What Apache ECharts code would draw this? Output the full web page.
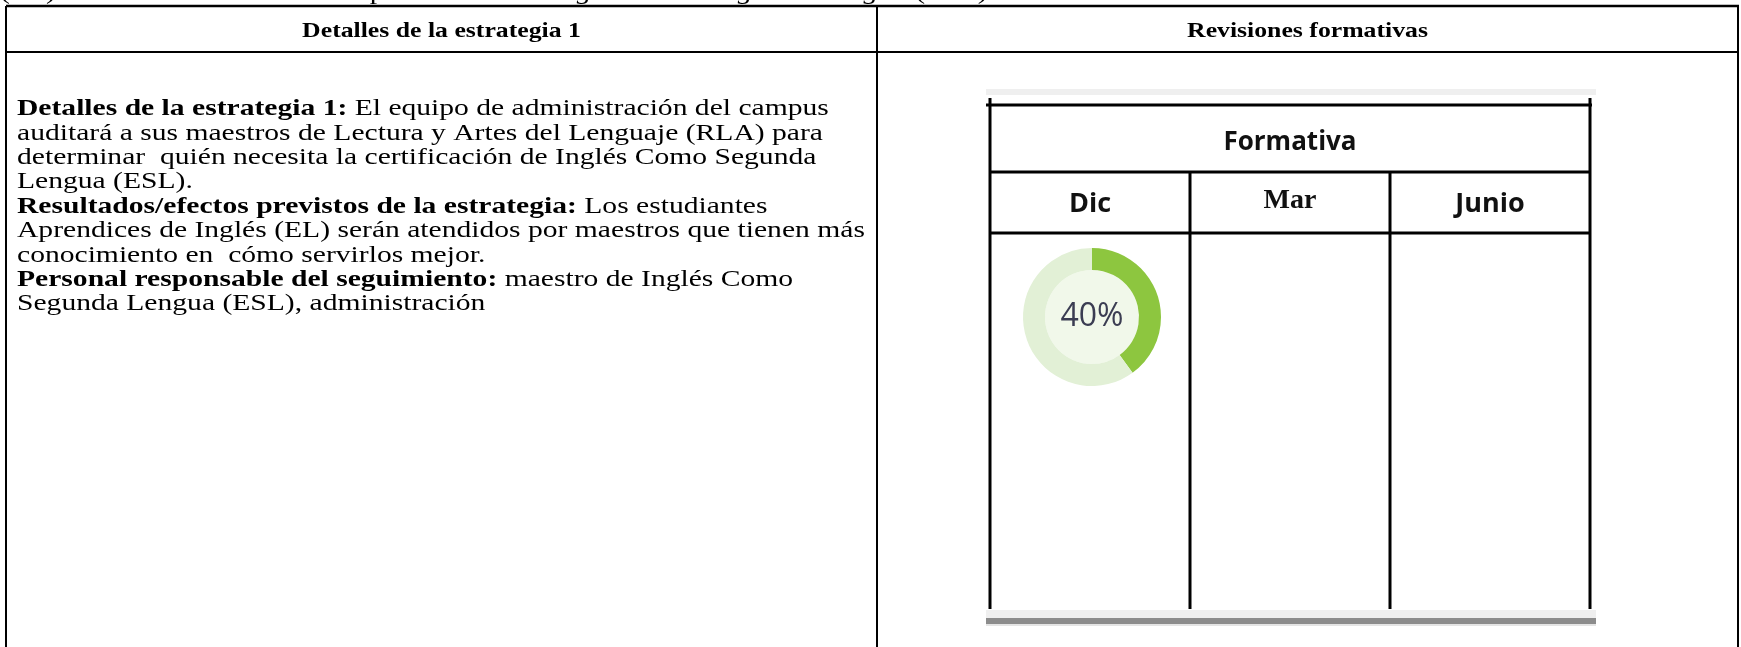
<!DOCTYPE html>
<html>
<head>
<meta charset="utf-8">
<script src="https://cdn.jsdelivr.net/npm/echarts@6/dist/echarts.min.js"></script>
<style>html,body{margin:0;padding:0;background:#fff;}#c{width:1741px;height:647px;}</style>
</head>
<body>
<div id="c"></div>
<script>
// ---- data ----
const topLine = ['(EL) tendrá Su certificación Suplementaria de ', 'Inglés Como Segunda Lengua', ' (ESL).'];
const headers = ['Detalles de la estrategia 1', 'Revisiones formativas'];
const bodyLines = [
  [['b','Detalles de la estrategia 1:'],['n',' El equipo de administración del campus']],
  [['n','auditará a sus maestros de Lectura y Artes del Lenguaje (RLA) para']],
  [['n','determinar  quién necesita la certificación de Inglés Como Segunda']],
  [['n','Lengua (ESL).']],
  [['b','Resultados/efectos previstos de la estrategia:'],['n',' Los estudiantes']],
  [['n','Aprendices de Inglés (EL) serán atendidos por maestros que tienen más']],
  [['n','conocimiento en  cómo servirlos mejor.']],
  [['b','Personal responsable del seguimiento:'],['n',' maestro de Inglés Como']],
  [['n','Segunda Lengua (ESL), administración']]
];
const panelTitle = 'Formativa';
const categories = ['Dic', 'Mar', 'Junio'];
const values = [40, null, null];

// ---- layout ----
const L = 6, T = 6, MID = 877, R = 1738, HB = 52;
const pX0 = 990, pX1 = 1590, pTop = 105, pRow1 = 172, pRow2 = 233, pBot = 609;
const colW = (pX1 - pX0) / categories.length;
const serif = '"Liberation Serif", "Times New Roman", serif';
const sans = '"Open Sans", "Noto Sans", sans-serif';
const BODY_SX = 1.315, HEAD_SX = 1.17;

const g = [];
function line(x1,y1,x2,y2,w){ g.push({type:'line',shape:{x1,y1,x2,y2},style:{stroke:'#000',lineWidth:w||2},silent:true}); }
function rect(x,y,w,h,c){ g.push({type:'rect',shape:{x,y,width:w,height:h},style:{fill:c},silent:true}); }

// top clipped text
g.push({type:'text',x:0,y:5,scaleX:BODY_SX,style:{
  text:'{n|'+topLine[0]+'}{i|'+topLine[1]+'}{n|'+topLine[2]+'}',
  textVerticalAlign:'bottom',
  rich:{n:{font:'22.5px '+serif,fill:'#000'},i:{font:'italic 22.5px '+serif,fill:'#000'}}
}});

// outer table
line(L,T,R+1,T,2.5); line(L,T,L,647); line(MID,T,MID,647); line(R,T,R,647); line(L,HB,R+1,HB);
g.push({type:'text',x:(L+MID)/2,y:31,scaleX:HEAD_SX,style:{text:headers[0],font:'bold 22px '+serif,fill:'#000',textAlign:'center',textVerticalAlign:'middle'}});
g.push({type:'text',x:(MID+R)/2,y:31,scaleX:HEAD_SX,style:{text:headers[1],font:'bold 22px '+serif,fill:'#000',textAlign:'center',textVerticalAlign:'middle'}});

// body rich text
const bodyText = bodyLines.map(l => l.map(s => '{'+s[0]+'|'+s[1]+'}').join('')).join('\n');
g.push({type:'text',x:17,y:97,scaleX:BODY_SX,style:{text:bodyText,
  rich:{b:{font:'bold 22.5px '+serif,fill:'#000',lineHeight:24.4},n:{font:'22.5px '+serif,fill:'#000',lineHeight:24.4}}}});

// inner panel
rect(986,89,610,6,'#efefef');
line(986,pTop,pX1+2,pTop,3);
line(pX0,98,pX0,pBot,3); line(pX1,98,pX1,pBot,3);
line(pX0,pRow1,pX1,pRow1,3); line(pX0,pRow2,pX1,pRow2,3);
for (let i=1;i<categories.length;i++) line(pX0+colW*i,pRow1,pX0+colW*i,pBot,3);
rect(986,610,610,8,'#efefef'); rect(986,618,610,6,'#8c8c8c'); rect(986,624,610,2,'#e4e4e4');
g.push({type:'text',x:(pX0+pX1)/2,y:143,style:{text:panelTitle,font:'bold 26px '+sans,fill:'#111',textAlign:'center',textVerticalAlign:'middle'}});
categories.forEach((c,i)=>{
  g.push({type:'text',x:pX0+colW*(i+0.5),y:(pRow1+pRow2)/2 + (i===1?-2:2),style:{text:c,
    font:(i===1?'bold 28px '+serif:'bold 27px '+sans),fill:'#111',textAlign:'center',textVerticalAlign:'middle'}});
});

const series = [];
values.forEach((v,i)=>{
  if (v == null) return;
  const cx = pX0 + colW*(i+0.5) + 2, cy = 317;
  series.push({type:'pie',silent:true,center:[cx,cy],radius:[0,47],label:{show:false},labelLine:{show:false},
    data:[{value:1,itemStyle:{color:'#f1f8ea'}}],animation:false});
  series.push({type:'pie',silent:true,center:[cx,cy],radius:[47,69],startAngle:90,clockwise:true,
    label:{show:false},labelLine:{show:false},animation:false,
    data:[{value:v,itemStyle:{color:'#8dc63f'},label:{show:true,position:'center',formatter:v+'%',fontFamily:sans,fontSize:32,color:'#3b3d52'}},
          {value:100-v,itemStyle:{color:'#e2f0d6'}}]});
});

const chart = echarts.init(document.getElementById('c'));
chart.setOption({animation:false,graphic:g,series});
</script>
</body>
</html>
